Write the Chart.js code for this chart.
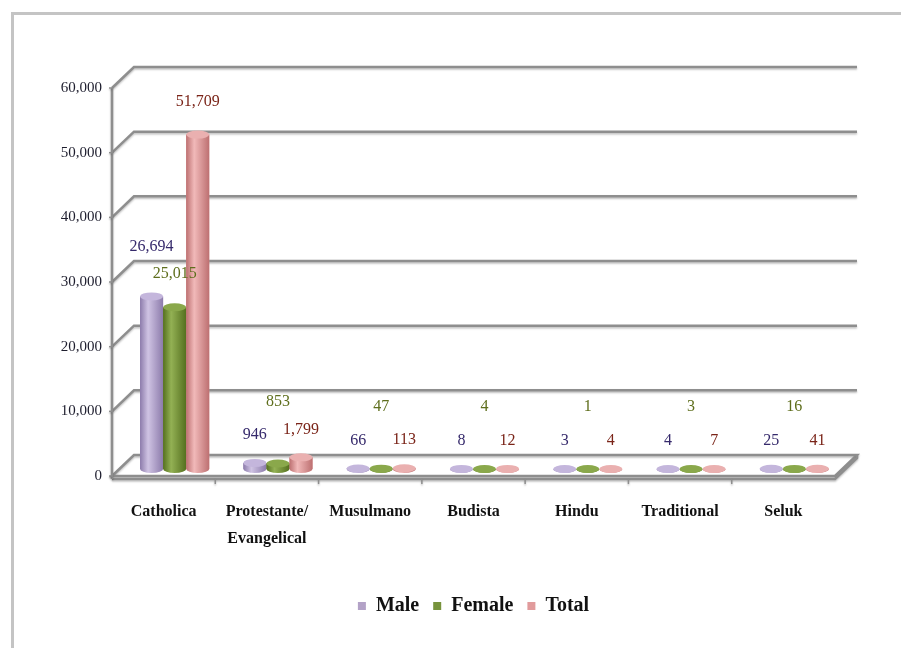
<!DOCTYPE html>
<html>
<head>
<meta charset="utf-8">
<script src="https://cdn.jsdelivr.net/npm/chart.js@4"></script>
<style>
  html, body { margin: 0; padding: 0; background: #fff; }
  #wrap { position: relative; width: 901px; height: 648px; overflow: hidden; }
  #frame { position: absolute; left: 11px; top: 12px; right: -5px; bottom: -5px; border-left: 3px solid #c4c4c4; border-top: 3px solid #c4c4c4; }
  canvas { position: absolute; left: 0; top: 0; }
</style>
</head>
<body>
<div id="wrap"><div id="frame"></div><canvas id="chart" width="901" height="648"></canvas></div>
<script>
// data
const categorias = ['Catholica', ['Protestante/', 'Evangelical'], 'Musulmano', 'Budista', 'Hindu', 'Traditional', 'Seluk'];
const male = [26694, 946, 66, 8, 3, 4, 25];
const female = [25015, 853, 47, 4, 1, 3, 16];
const total = [51709, 1799, 113, 12, 4, 7, 41];
const yMax = 60000;
const yStep = 10000;

// look
const SERIF = "'Liberation Serif', 'DejaVu Serif', serif";
const DEPTH = { dx: 22, dy: -21 };      // back wall offset
const BARS = { dx: 11, dy: -7 };        // bars sit half way in
const colores = [
    { flat: '#b3a2c7', dark: '#8c7bab', light: '#cfc3e3', cap: '#c4b6dc', label: '#35296b' },
    { flat: '#77933c', dark: '#55701f', light: '#93b154', cap: '#8aa84b', label: '#5e6e1c' },
    { flat: '#e19b9c', dark: '#bd7071', light: '#f1b9b9', cap: '#eab0b0', label: '#7a2418' }
];
const liftBajo = [28, 62, 28];
const liftAlto = [50, 33, 33];

function cilindro(ctx, x, top, base, w, c) {
    const rx = w / 2, ry = 4;
    const g = ctx.createLinearGradient(x - rx, 0, x + rx, 0);
    g.addColorStop(0, c.dark);
    g.addColorStop(0.35, c.light);
    g.addColorStop(1, c.dark);
    ctx.fillStyle = g;
    ctx.beginPath();
    ctx.moveTo(x - rx, top);
    ctx.lineTo(x - rx, base);
    ctx.ellipse(x, base, rx, ry, 0, Math.PI, 0, true);
    ctx.lineTo(x + rx, top);
    ctx.closePath();
    ctx.fill();
    ctx.fillStyle = c.cap;
    ctx.beginPath();
    ctx.ellipse(x, top, rx, ry, 0, 0, Math.PI * 2);
    ctx.fill();
}

const room3d = {
    id: 'room3d',
    beforeDatasetsDraw(chart) {
        const { ctx, chartArea: a, scales } = chart;
        const y = scales.y;
        ctx.save();
        ctx.strokeStyle = '#8e8e8e';
        ctx.lineWidth = 2.5;
        ctx.shadowColor = 'rgba(0,0,0,0.25)';
        ctx.shadowBlur = 2;
        ctx.shadowOffsetY = 1.5;
        // back wall gridlines with the little diagonal from the front axis
        for (let v = yStep; v <= yMax; v += yStep) {
            const py = y.getPixelForValue(v);
            ctx.beginPath();
            ctx.moveTo(a.left, py);
            ctx.lineTo(a.left + DEPTH.dx, py + DEPTH.dy);
            ctx.lineTo(a.right + DEPTH.dx, py + DEPTH.dy);
            ctx.stroke();
        }
        // floor slab
        const p0 = y.getPixelForValue(0);
        ctx.beginPath();
        ctx.moveTo(a.left, p0);
        ctx.lineTo(a.left + DEPTH.dx, p0 + DEPTH.dy);
        ctx.lineTo(a.right + DEPTH.dx, p0 + DEPTH.dy);
        ctx.lineTo(a.right, p0);
        ctx.closePath();
        ctx.stroke();
        ctx.beginPath();
        ctx.moveTo(a.left, p0 + 3);
        ctx.lineTo(a.right, p0 + 3);
        ctx.lineTo(a.right + DEPTH.dx, p0 + DEPTH.dy + 3);
        ctx.lineTo(a.right + DEPTH.dx, p0 + DEPTH.dy);
        ctx.stroke();
        // front value axis with small ticks
        ctx.beginPath();
        ctx.moveTo(a.left, y.getPixelForValue(yMax));
        ctx.lineTo(a.left, p0 + 3);
        ctx.stroke();
        ctx.lineWidth = 1.5;
        for (let v = 0; v <= yMax; v += yStep) {
            const py = y.getPixelForValue(v);
            ctx.beginPath();
            ctx.moveTo(a.left - 3, py);
            ctx.lineTo(a.left, py);
            ctx.stroke();
        }
        // category ticks on the front edge
        const paso = (a.right - a.left) / categorias.length;
        for (let i = 1; i < categorias.length; i++) {
            const px = a.left + paso * i;
            ctx.beginPath();
            ctx.moveTo(px, p0 + 3);
            ctx.lineTo(px, p0 + 8);
            ctx.stroke();
        }
        ctx.restore();
        ctx.save();
        ctx.translate(BARS.dx, BARS.dy);
    },
    afterDatasetsDraw(chart) {
        const { ctx } = chart;
        chart.data.datasets.forEach((ds, di) => {
            const meta = chart.getDatasetMeta(di);
            meta.data.forEach(bar => {
                const p = bar.getProps(['x', 'y', 'base', 'width'], true);
                cilindro(ctx, p.x, p.y, p.base, p.width, colores[di]);
            });
        });
        // data labels
        ctx.font = '16px ' + SERIF;
        ctx.textAlign = 'center';
        ctx.textBaseline = 'middle';
        chart.data.datasets.forEach((ds, di) => {
            const meta = chart.getDatasetMeta(di);
            meta.data.forEach((bar, i) => {
                const p = bar.getProps(['x', 'y'], true);
                const lift = ds.data[i] > 10000 ? liftAlto[di] : liftBajo[di];
                ctx.fillStyle = colores[di].label;
                ctx.fillText(ds.data[i].toLocaleString('en-US'), p.x, p.y - lift);
            });
        });
        ctx.restore();
    }
};

const ctx = document.getElementById('chart');
new Chart(ctx, {
    type: 'bar',
    data: {
        labels: categorias,
        datasets: [
            { label: 'Male', data: male, backgroundColor: colores[0].flat },
            { label: 'Female', data: female, backgroundColor: colores[1].flat },
            { label: 'Total', data: total, backgroundColor: colores[2].flat }
        ]
    },
    options: {
        responsive: false,
        animation: false,
        barPercentage: 1,
        categoryPercentage: 0.67,
        layout: { padding: { left: 0, right: 66, top: 88, bottom: 22 } },
        scales: {
            y: {
                min: 0,
                max: yMax,
                ticks: {
                    stepSize: yStep,
                    padding: 10,
                    color: '#1e1e2e',
                    font: { family: SERIF, size: 15 },
                    callback: v => v.toLocaleString('en-US')
                },
                grid: { display: false, drawTicks: false },
                border: { display: false },
                afterFit: s => { s.width = 112; }
            },
            x: {
                ticks: {
                    padding: 23,
                    color: '#111',
                    maxRotation: 0,
                    font: { family: SERIF, size: 16, weight: 'bold', lineHeight: 1.65 }
                },
                grid: { display: false, drawTicks: false },
                border: { display: false },
                afterFit: s => { s.height = 106; }
            }
        },
        plugins: {
            legend: {
                position: 'bottom',
                fullSize: false,
                labels: {
                    boxWidth: 8,
                    boxHeight: 8,
                    padding: 14,
                    color: '#111',
                    font: { family: SERIF, size: 20, weight: 'bold' }
                }
            },
            tooltip: { enabled: false }
        }
    },
    plugins: [room3d]
});
</script>
</body>
</html>
